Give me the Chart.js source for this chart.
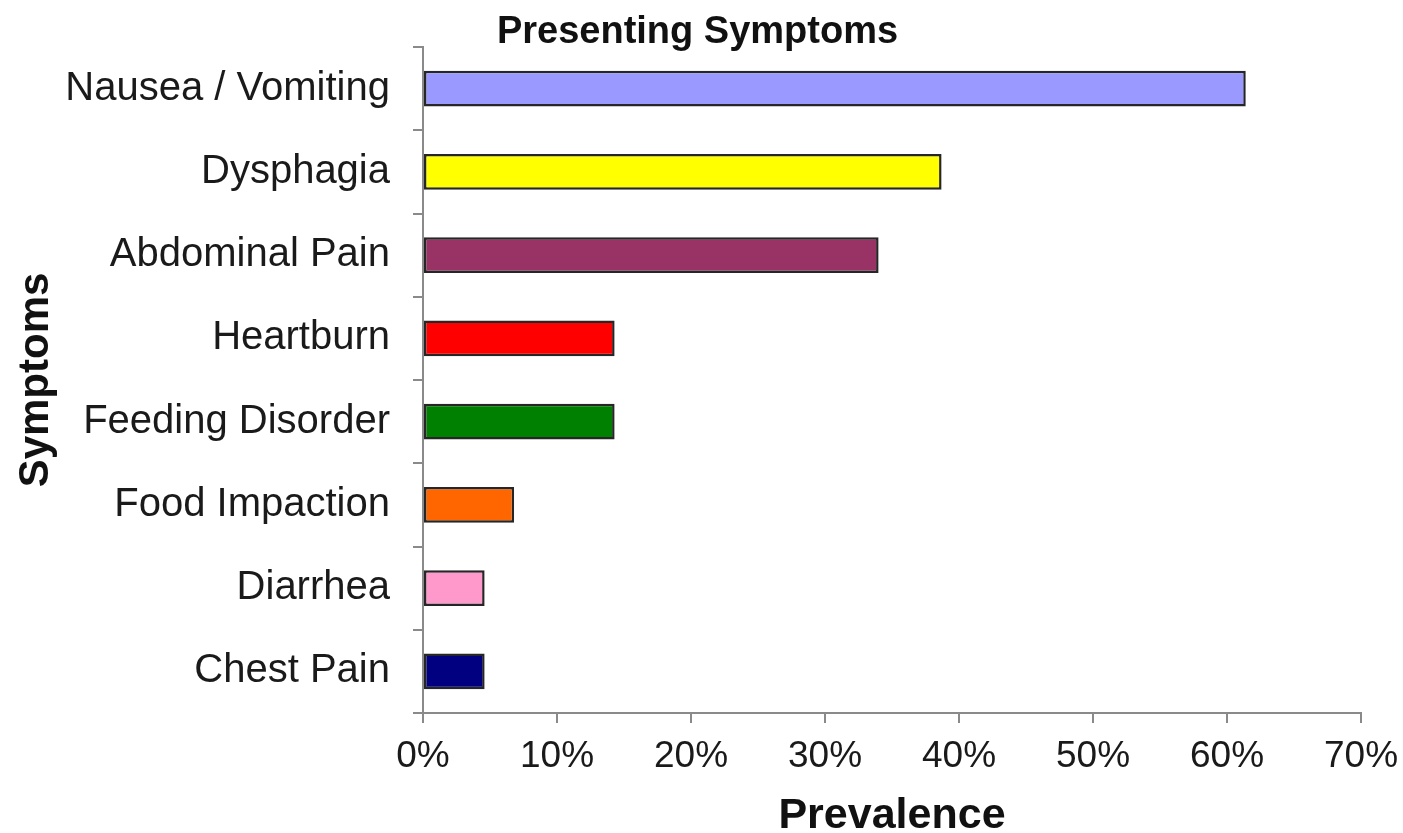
<!DOCTYPE html>
<html>
<head>
<meta charset="utf-8">
<script src="https://cdn.jsdelivr.net/npm/chart.js@4/dist/chart.umd.min.js"></script>
<style>
  html, body { margin: 0; padding: 0; background: #ffffff; }
  #wrap { width: 1403px; height: 833px; position: relative; }
</style>
</head>
<body>
<div id="wrap"><canvas id="chart" width="1403" height="833"></canvas></div>
<script>
// Symptom categories, top to bottom
const symptoms = [
  'Nausea / Vomiting',
  'Dysphagia',
  'Abdominal Pain',
  'Heartburn',
  'Feeding Disorder',
  'Food Impaction',
  'Diarrhea',
  'Chest Pain'
];

// Prevalence of each symptom, in percent
const prevalence = [61.4, 38.7, 34.0, 14.3, 14.3, 6.8, 4.6, 4.6];

// Bar fill colours, one per symptom
const barColors = [
  '#9999FF', '#FFFF00', '#993366', '#FF0000',
  '#008000', '#FF6600', '#FF99CC', '#000080'
];

// Prevalence axis range and tick step (percent)
const axisMin = 0;
const axisMax = 70;
const axisStep = 10;

const FONT = '"Liberation Sans", Arial, Helvetica, sans-serif';
const AXIS_GREY = '#8a8a8a';

new Chart(document.getElementById('chart'), {
  type: 'bar',
  data: {
    labels: symptoms,
    datasets: [{
      label: 'Prevalence',
      data: prevalence,
      backgroundColor: barColors,
      borderColor: '#262626',
      borderWidth: 2.5,
      borderSkipped: false,
      categoryPercentage: 1.0,
      barPercentage: 0.43
    }]
  },
  options: {
    indexAxis: 'y',
    responsive: false,
    animation: false,
    devicePixelRatio: 1,
    layout: { padding: { left: 0, right: 8, top: 0, bottom: 0 } },
    plugins: {
      legend: { display: false },
      tooltip: { enabled: false },
      title: {
        display: true,
        text: 'Presenting Symptoms',
        color: '#111111',
        font: { family: FONT, size: 38, weight: 'bold', lineHeight: 1 },
        padding: { top: 12, bottom: -5 }
      }
    },
    scales: {
      x: {
        type: 'linear',
        position: 'bottom',
        min: axisMin,
        max: axisMax,
        afterFit: (scale) => {
          scale.height = 120;
          scale.paddingRight = 42;
        },
        ticks: {
          stepSize: axisStep,
          padding: 12,
          color: '#1a1a1a',
          font: { family: FONT, size: 37 },
          callback: (v) => v + '%'
        },
        grid: {
          drawOnChartArea: false,
          drawTicks: true,
          tickLength: 10,
          color: AXIS_GREY,
          lineWidth: 2
        },
        border: { display: true, color: AXIS_GREY, width: 2 },
        title: {
          display: true,
          text: 'Prevalence',
          color: '#111111',
          font: { family: FONT, size: 43, weight: 'bold', lineHeight: 1 },
          padding: { top: 0, bottom: -5 }
        }
      },
      y: {
        type: 'category',
        position: 'left',
        afterFit: (scale) => { scale.width = 423; },
        ticks: {
          padding: 23,
          color: '#1a1a1a',
          font: { family: FONT, size: 40 }
        },
        grid: {
          offset: true,
          drawOnChartArea: false,
          drawTicks: true,
          tickLength: 10,
          color: AXIS_GREY,
          lineWidth: 2
        },
        border: { display: true, color: AXIS_GREY, width: 2 },
        title: {
          display: true,
          text: 'Symptoms',
          color: '#111111',
          font: { family: FONT, size: 42, weight: 'bold', lineHeight: 1 },
          padding: { top: 15, bottom: 0 }
        }
      }
    }
  }
});
</script>
</body>
</html>
